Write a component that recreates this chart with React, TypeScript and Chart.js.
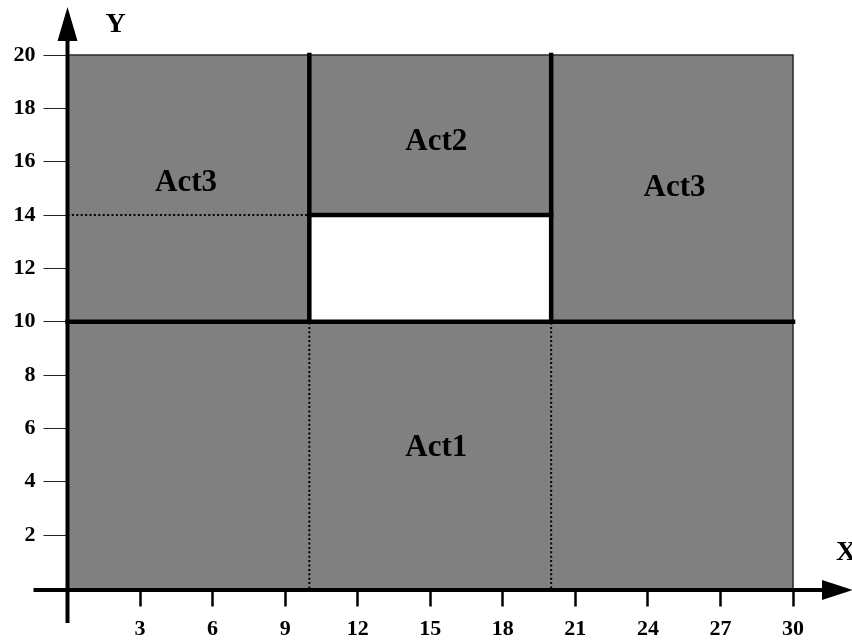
import { useEffect, useRef } from 'react';
import { Chart, registerables } from 'chart.js';

Chart.register(...registerables);

// ---- data ----
const xTicks = [3, 6, 9, 12, 15, 18, 21, 24, 27, 30];
const yTicks = [2, 4, 6, 8, 10, 12, 14, 16, 18, 20];
const xRange = [0, 30];
const yRange = [0, 20];

// outer grey region: top edge and right edge, filled down to y = 0
const outerBoundary = [
  { x: 0, y: 20 },
  { x: 30, y: 20 },
  { x: 30, y: 0 },
];
// white hole: top edge at y = 14, filled down to y = 10
const holeTop = [
  { x: 10, y: 14 },
  { x: 20, y: 14 },
];
const holeBottom = 10;

const solidLines = [
  [{ x: 0, y: 10 }, { x: 30, y: 10 }],
  [{ x: 10, y: 10 }, { x: 10, y: 20 }],
  [{ x: 20, y: 10 }, { x: 20, y: 20 }],
  [{ x: 10, y: 14 }, { x: 20, y: 14 }],
];
const dottedLines = [
  [{ x: 0, y: 14 }, { x: 10, y: 14 }],
  [{ x: 10, y: 0 }, { x: 10, y: 10 }],
  [{ x: 20, y: 0 }, { x: 20, y: 10 }],
];

const regionNames = ['Act1', 'Act2', 'Act3', 'Act3'];
const regionX = [15.25, 15.25, 4.9, 25.1];
const regionY = [5.25, 16.75, 15.2, 15.0];
const axisTitles = ['X', 'Y'];

const FONT = '"Liberation Serif", "Times New Roman", serif';

const decorPlugin = {
  id: 'decor',
  afterDatasetsDraw(chart: any) {
    const { ctx, scales } = chart;
    ctx.save();
    ctx.fillStyle = '#000';
    ctx.font = `bold 31px ${FONT}`;
    ctx.textAlign = 'center';
    ctx.textBaseline = 'middle';
    regionNames.forEach((name, i) => {
      ctx.fillText(
        name,
        scales.x.getPixelForValue(regionX[i]),
        scales.y.getPixelForValue(regionY[i])
      );
    });
    ctx.restore();
  },
  afterDraw(chart: any) {
    const { ctx, scales, chartArea } = chart;
    const x0 = scales.x.getPixelForValue(xRange[0]);
    const y0 = scales.y.getPixelForValue(yRange[0]) + 1.5;
    ctx.save();
    ctx.strokeStyle = '#000';
    ctx.fillStyle = '#000';
    ctx.lineWidth = 4;
    ctx.lineCap = 'butt';
    // Y axis
    ctx.beginPath();
    ctx.moveTo(x0, y0 + 33);
    ctx.lineTo(x0, chartArea.top - 14);
    ctx.stroke();
    ctx.beginPath();
    ctx.moveTo(x0, chartArea.top - 48);
    ctx.lineTo(x0 - 10, chartArea.top - 14);
    ctx.lineTo(x0 + 10, chartArea.top - 14);
    ctx.closePath();
    ctx.fill();
    // X axis
    ctx.beginPath();
    ctx.moveTo(x0 - 34, y0);
    ctx.lineTo(chartArea.right + 32, y0);
    ctx.stroke();
    ctx.beginPath();
    ctx.moveTo(chartArea.right + 60, y0);
    ctx.lineTo(chartArea.right + 29, y0 - 10);
    ctx.lineTo(chartArea.right + 29, y0 + 10);
    ctx.closePath();
    ctx.fill();
    // axis titles
    ctx.font = `bold 28px ${FONT}`;
    ctx.textAlign = 'left';
    ctx.textBaseline = 'alphabetic';
    ctx.fillText(axisTitles[0], chartArea.right + 43, y0 - 30);
    ctx.fillText(axisTitles[1], x0 + 38, chartArea.top - 23);
    ctx.restore();
  },
};

export default function App() {
  const ref = useRef<HTMLCanvasElement | null>(null);

  useEffect(() => {
    if (!ref.current) return;
    const datasets: any[] = [];
    datasets.push({
      data: outerBoundary,
      showLine: true,
      pointRadius: 0,
      borderColor: '#2a2a2a',
      borderWidth: 1.5,
      backgroundColor: '#808080',
      fill: { value: yRange[0] },
      order: 10,
      clip: false,
    });
    datasets.push({
      data: holeTop,
      showLine: true,
      pointRadius: 0,
      borderColor: '#ffffff',
      borderWidth: 0,
      backgroundColor: '#ffffff',
      fill: { value: holeBottom },
      order: 9,
      clip: false,
    });
    dottedLines.forEach((seg) => {
      datasets.push({
        data: seg,
        showLine: true,
        pointRadius: 0,
        borderColor: '#000',
        borderWidth: 2,
        borderDash: [2, 2.4],
        fill: false,
        order: 5,
        clip: false,
      });
    });
    solidLines.forEach((seg) => {
      datasets.push({
        data: seg,
        showLine: true,
        pointRadius: 0,
        borderColor: '#000',
        borderWidth: 4.5,
        borderCapStyle: 'square',
        fill: false,
        order: 1,
        clip: false,
      });
    });

    const chart = new Chart(ref.current, {
      type: 'scatter',
      data: { datasets },
      options: {
        responsive: false,
        animation: false,
        devicePixelRatio: 1,
        layout: { padding: { top: 55, right: 59, left: 0, bottom: 0 } },
        plugins: {
          legend: { display: false },
          tooltip: { enabled: false },
        },
        scales: {
          x: {
            type: 'linear',
            min: xRange[0],
            max: xRange[1],
            afterBuildTicks: (scale: any) => {
              scale.ticks = xTicks.map((v) => ({ value: v }));
            },
            afterFit: (scale: any) => {
              scale.height = 52.5;
            },
            border: { display: false },
            grid: {
              display: true,
              drawOnChartArea: false,
              drawTicks: true,
              tickLength: 18,
              tickColor: '#000',
              tickWidth: 2.5,
            },
            ticks: {
              color: '#000',
              padding: 10,
              maxRotation: 0,
              autoSkip: false,
              font: { family: FONT, size: 22, weight: 'bold' },
            },
          },
          y: {
            type: 'linear',
            min: yRange[0],
            max: yRange[1],
            afterBuildTicks: (scale: any) => {
              scale.ticks = yTicks.map((v) => ({ value: v }));
            },
            afterFit: (scale: any) => {
              scale.width = 67.5;
            },
            border: { display: false },
            grid: {
              display: true,
              drawOnChartArea: false,
              drawTicks: true,
              tickLength: 24,
              tickColor: '#222',
              tickWidth: 1,
            },
            ticks: {
              color: '#000',
              padding: 8,
              autoSkip: false,
              font: { family: FONT, size: 22, weight: 'bold' },
            },
          },
        },
      } as any,
      plugins: [decorPlugin],
    });
    return () => chart.destroy();
  }, []);

  return (
    <div style={{ position: 'absolute', left: 0, top: 0, width: 852, height: 641, background: '#fff' }}>
      <canvas ref={ref} width={852} height={641} style={{ width: 852, height: 641, display: 'block' }} />
    </div>
  );
}
